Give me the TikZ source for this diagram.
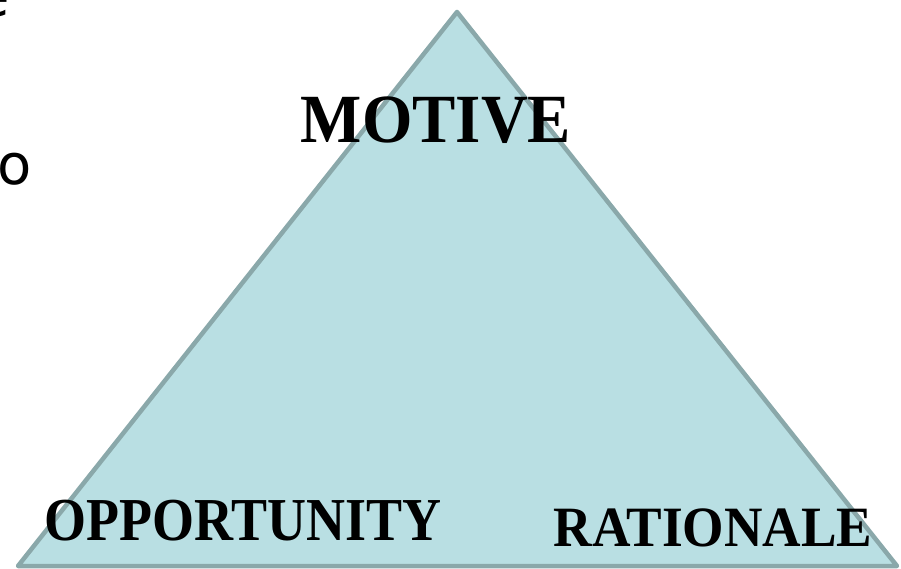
\documentclass[tikz,border=0pt]{standalone}
\usepackage{fontspec}
\usepackage{graphicx}
\setmainfont{Liberation Serif}
\newfontfamily\sidefont{DejaVu Sans}
\definecolor{trifill}{HTML}{B9DFE3}
\definecolor{triedge}{HTML}{8AA8AA}
\begin{document}
\begin{tikzpicture}[x=1pt,y=-1pt,
  wordtext/.style={inner sep=0pt, anchor=base, text=black},
  sidetext/.style={inner sep=0pt, text=black, font=\sidefont\fontsize{56}{56}\selectfont}]
\useasboundingbox (0,0) rectangle (901,569);
\clip (0,0) rectangle (901,569);
\coordinate (apex) at (457,12);
\coordinate (bl) at (18,566);
\coordinate (br) at (897,566);
\draw[triedge, fill=trifill, line width=4.5, line join=round] (apex) -- (br) -- (bl) -- cycle;
\node[wordtext] (motive) at (436,143) {\fontsize{69}{69}\selectfont\bfseries\scalebox{0.94}[1]{MOTIVE}};
\node[wordtext] (opportunity) at (243,540) {\fontsize{61}{61}\selectfont\bfseries\scalebox{0.885}[1]{OPPORTUNITY}};
\node[wordtext] (rationale) at (713,546) {\fontsize{57}{57}\selectfont\bfseries\scalebox{0.935}[1]{RATIONALE}};
\node[sidetext, anchor=base west] (sideo) at (-3,185) {o};
\node[sidetext, anchor=base east] (sidee) at (10,17) {e};
\end{tikzpicture}
\end{document}
